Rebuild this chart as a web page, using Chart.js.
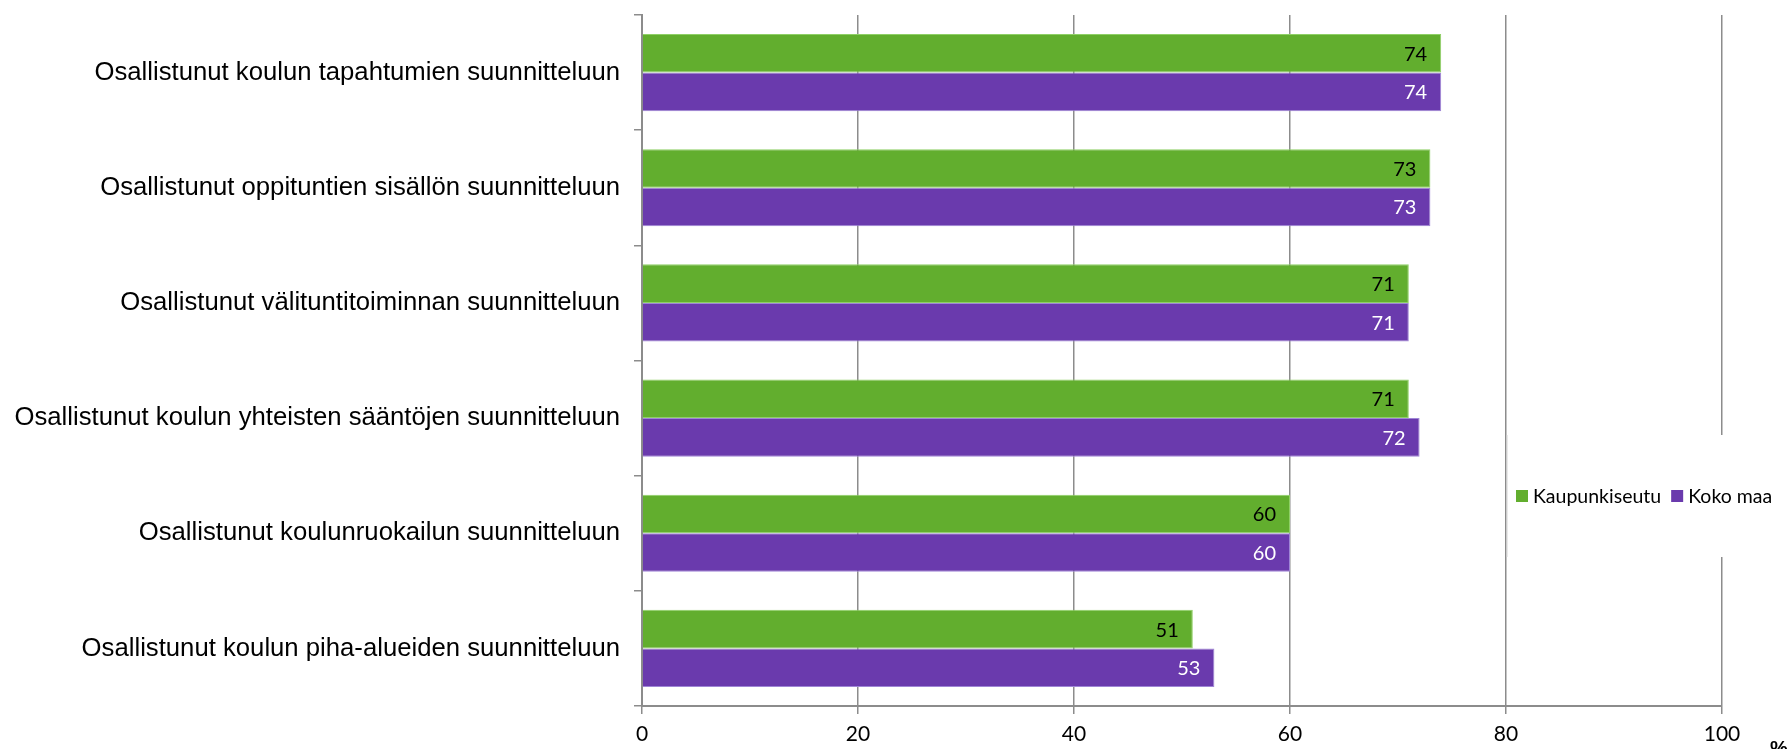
<!DOCTYPE html>
<html>
<head>
<meta charset="utf-8">
<script src="https://cdn.jsdelivr.net/npm/chart.js@4"></script>
<style>
  html, body { margin: 0; padding: 0; background: #fff; }
  #wrap { width: 1789px; height: 749px; position: relative; }
</style>
</head>
<body>
<div id="wrap"><canvas id="chart"></canvas></div>
<script>
const kategoriat = [
  "Osallistunut koulun tapahtumien suunnitteluun",
  "Osallistunut oppituntien sisällön suunnitteluun",
  "Osallistunut välituntitoiminnan suunnitteluun",
  "Osallistunut koulun yhteisten sääntöjen suunnitteluun",
  "Osallistunut koulunruokailun suunnitteluun",
  "Osallistunut koulun piha-alueiden suunnitteluun"
]
const kaupunkiseutu = [74, 73, 71, 71, 60, 51]
const kokoMaa = [74, 73, 71, 72, 60, 53]
const sarjat = ["Kaupunkiseutu", "Koko maa"]
const xTicks = [0, 20, 40, 60, 80, 100]

const vihrea = "#62ae2e"
const violetti = "#6a3aad"
const harmaa = "#8c8c8c"

const arvoLabelit = {
  id: "arvoLabelit",
  afterDatasetsDraw(chart) {
    const ctx = chart.ctx
    ctx.save()
    ctx.font = "20px Lato"
    ctx.textAlign = "right"
    ctx.textBaseline = "middle"
    chart.data.datasets.forEach((ds, i) => {
      ctx.fillStyle = i === 0 ? "#000" : "#fff"
      chart.getDatasetMeta(i).data.forEach((bar, j) => {
        ctx.fillText(ds.data[j], bar.x - 14, bar.y + 1)
      })
    })
    ctx.restore()
  }
}

const selite = {
  id: "selite",
  afterDraw(chart) {
    const ctx = chart.ctx
    ctx.save()
    ctx.fillStyle = "#fff"
    ctx.fillRect(1507, 435, 282, 122)
    ctx.fillStyle = "#d4d4d4"
    ctx.fillRect(1506.5, 435, 1, 122)

    ctx.font = "19.5px Lato"
    ctx.textBaseline = "middle"
    ctx.textAlign = "left"
    let x = 1516
    const y = 496
    chart.data.datasets.forEach(ds => {
      ctx.fillStyle = ds.backgroundColor
      ctx.fillRect(x, y - 6, 12, 12)
      ctx.fillStyle = "#000"
      ctx.fillText(ds.label, x + 17, y + 1)
      x += 17 + ctx.measureText(ds.label).width + 10
    })

    ctx.font = "bold 20px 'Liberation Sans'"
    ctx.textBaseline = "top"
    ctx.fillText("%", 1770, 739)
    ctx.restore()
  }
}

new Chart(document.getElementById("chart"), {
  type: "bar",
  data: {
    labels: kategoriat,
    datasets: [
      {
        label: sarjat[0],
        data: kaupunkiseutu,
        backgroundColor: vihrea,
        borderColor: "#8fd066",
        borderWidth: 1
      },
      {
        label: sarjat[1],
        data: kokoMaa,
        backgroundColor: violetti,
        borderColor: "#9f86d6",
        borderWidth: 1
      }
    ]
  },
  options: {
    indexAxis: "y",
    responsive: true,
    maintainAspectRatio: false,
    animation: false,
    layout: { padding: { top: 15, right: 67, left: 0, bottom: 0 } },
    categoryPercentage: 0.67,
    barPercentage: 1,
    plugins: {
      legend: { display: false },
      tooltip: { enabled: false }
    },
    scales: {
      x: {
        min: 0,
        max: 100,
        afterBuildTicks(scale) {
          scale.ticks = xTicks.map(v => ({ value: v }))
        },
        afterFit(scale) {
          scale.height = 43
          scale.paddingLeft = 0
          scale.paddingRight = 0
        },
        grid: {
          color: harmaa,
          lineWidth: 1.5,
          tickLength: 8
        },
        border: { color: harmaa, width: 2 },
        ticks: {
          color: "#000",
          padding: 8,
          font: { family: "Lato", size: 21 }
        }
      },
      y: {
        afterFit(scale) {
          scale.width = 642
          scale.paddingTop = 0
          scale.paddingBottom = 0
        },
        grid: {
          drawOnChartArea: false,
          color: harmaa,
          lineWidth: 1.5,
          tickLength: 8
        },
        border: { color: harmaa, width: 2 },
        ticks: {
          color: "#000",
          padding: 14,
          font: { family: "'Liberation Sans'", size: 25.7 }
        }
      }
    }
  },
  plugins: [arvoLabelit, selite]
})
</script>
</body>
</html>
